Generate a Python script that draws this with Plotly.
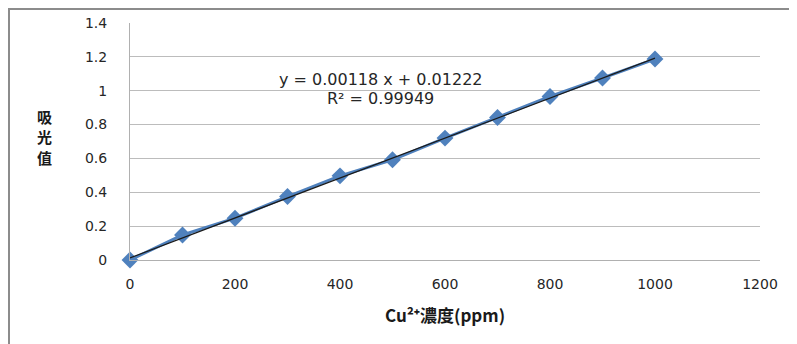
import plotly.graph_objects as go

# Data
conc = [0, 100, 200, 300, 400, 500, 600, 700, 800, 900, 1000]
absorb = [0.0, 0.148, 0.247, 0.375, 0.497, 0.592, 0.72, 0.842, 0.966, 1.075, 1.187]
slope = 0.00118
intercept = 0.01222
r2 = 0.99949
x_ticks = [0, 200, 400, 600, 800, 1000, 1200]
y_ticks = [0, 0.2, 0.4, 0.6, 0.8, 1.0, 1.2, 1.4]
y_tick_text = ["0", "0.2", "0.4", "0.6", "0.8", "1", "1.2", "1.4"]
y_title_chars = ["吸", "光", "值"]
x_title = "Cu²⁺濃度(ppm)"

trend_x = [conc[0], conc[-1]]
trend_y = [slope * v + intercept for v in trend_x]

# page body adds an 8px offset; figure pixel coords = screen - 8
OFF = 8
L, R_EDGE, T, B_EDGE = 130 - OFF, 760 - OFF, 23 - OFF, 260 - OFF
W, H = 797 - OFF, 344 - OFF
PW, PH = R_EDGE - L, B_EDGE - T


def px(xs):
    return (xs - OFF - L) / PW


def py(ys):
    return (B_EDGE - (ys - OFF)) / PH


fig = go.Figure()
fig.add_trace(go.Scatter(
    x=conc, y=absorb, mode="lines+markers",
    line=dict(color="#4F81BD", width=3),
    marker=dict(symbol="diamond", size=13, color="#4F81BD"),
    showlegend=False, cliponaxis=False,
))
fig.add_trace(go.Scatter(
    x=trend_x, y=trend_y, mode="lines",
    line=dict(color="#1a1a1a", width=1.2),
    showlegend=False, cliponaxis=False,
))

font_main = "DejaVu Sans"
annotations = [
    dict(x=px(381), y=py(80), xref="paper", yref="paper",
         xanchor="center", yanchor="middle",
         text=f"y = {slope:.5f} x + {intercept:.5f}", showarrow=False,
         font=dict(family=font_main, size=16, color="#262626")),
    dict(x=px(380), y=py(99), xref="paper", yref="paper",
         xanchor="center", yanchor="middle",
         text=f"R² = {r2:.5f}", showarrow=False,
         font=dict(family=font_main, size=16, color="#262626")),
    dict(x=0.5, y=py(314), xref="paper", yref="paper",
         xanchor="center", yanchor="middle",
         text=f"<b>{x_title}</b>", showarrow=False,
         font=dict(family="Noto Sans CJK TC", size=17, color="#1a1a1a")),
]
for i, ch in enumerate(y_title_chars):
    annotations.append(dict(
        x=px(44), y=py(116 + 20.5 * i), xref="paper", yref="paper",
        xanchor="center", yanchor="middle",
        text=f"<b>{ch}</b>", showarrow=False,
        font=dict(family="Noto Sans CJK TC", size=15, color="#1a1a1a"),
    ))

fig.update_layout(
    width=W, height=H,
    margin=dict(l=L, r=W - R_EDGE, t=T, b=H - B_EDGE, autoexpand=False),
    paper_bgcolor="white", plot_bgcolor="white",
    font=dict(family=font_main, size=14, color="#262626"),
    xaxis=dict(
        range=[0, 1200], tickvals=x_ticks, showgrid=False, zeroline=False,
        showline=True, linecolor="#b0b0b0", linewidth=1,
        ticks="", ticklabelstandoff=11, tickfont=dict(size=14, color="#262626"),
    ),
    yaxis=dict(
        range=[0, 1.4], tickvals=y_ticks, ticktext=y_tick_text,
        showgrid=True, gridcolor="#bcbcbc", gridwidth=1, zeroline=False,
        showline=True, linecolor="#b0b0b0", linewidth=1,
        ticks="", ticklabelstandoff=19, tickfont=dict(size=14, color="#262626"),
    ),
    shapes=[dict(
        type="rect", xref="paper", yref="paper",
        x0=px(9), x1=px(795),
        y0=py(360), y1=py(9),
        line=dict(color="#8c8c8c", width=2), layer="below",
    )],
    annotations=annotations,
)

fig.write_html("out.html")
